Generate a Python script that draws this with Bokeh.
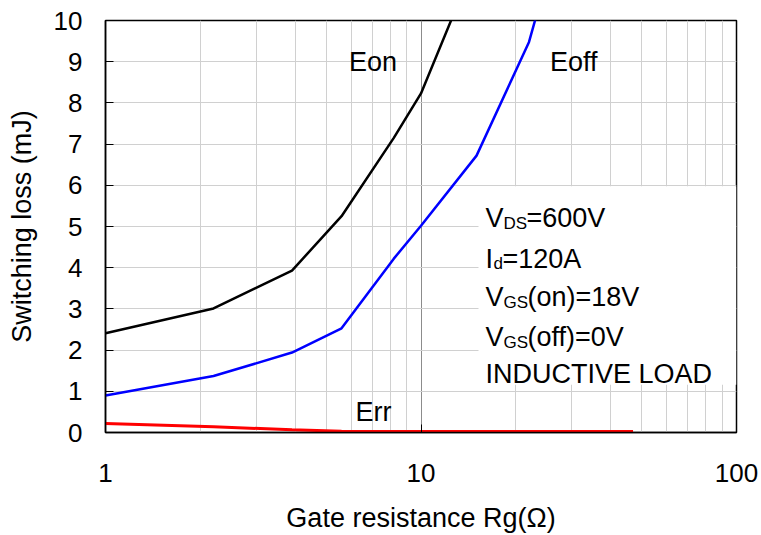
from bokeh.plotting import figure
from bokeh.models import (Range1d, FixedTicker, PrintfTickFormatter, Label,
                          BoxAnnotation)
from bokeh.embed import file_html
from bokeh.resources import INLINE

# ---- data ----
rg_on = [1, 2.2, 3.9, 5.6, 8.2, 10, 15]
eon = [2.41, 3.01, 3.93, 5.25, 7.15, 8.23, 11.5]

rg_off = [1, 2.2, 3.9, 5.6, 8.2, 10, 15, 22, 25]
eoff = [0.90, 1.37, 1.94, 2.53, 4.22, 5.02, 6.72, 9.48, 11.0]

rg_rr = [1, 2.2, 3.9, 5.6, 8.2, 10, 15, 22, 33, 47]
err = [0.22, 0.14, 0.065, 0.03, 0.025, 0.025, 0.025, 0.025, 0.025, 0.025]

x_ticks = [1, 10, 100]
x_minor_ticks = [2, 3, 4, 5, 6, 7, 8, 9, 20, 30, 40, 50, 60, 70, 80, 90]
y_ticks = [0, 1, 2, 3, 4, 5, 6, 7, 8, 9, 10]

FONT = "Liberation Sans"

W, H = 761, 535
p = figure(width=W, height=H, x_axis_type="log",
           x_range=Range1d(1, 100), y_range=Range1d(0, 10),
           output_backend="svg", toolbar_location=None)
p.min_border_left = 105
p.min_border_right = 25
p.min_border_top = 20
p.min_border_bottom = 100
p.background_fill_color = "white"
p.border_fill_color = "white"
p.outline_line_color = "black"
p.outline_line_width = 1.5

# axes
p.xaxis.ticker = FixedTicker(ticks=x_ticks, minor_ticks=x_minor_ticks)
p.xaxis.formatter = PrintfTickFormatter(format="%d")
p.yaxis.ticker = FixedTicker(ticks=y_ticks)
for ax in (p.xaxis, p.yaxis):
    ax.axis_line_color = "black"
    ax.axis_line_width = 1.5
    ax.major_tick_in = 8
    ax.major_tick_out = 0
    ax.major_tick_line_color = "black"
    ax.major_tick_line_width = 1
    ax.minor_tick_line_color = None
    ax.major_label_text_font = FONT
    ax.major_label_text_font_size = "26px"
    ax.major_label_text_color = "black"
    ax.axis_label_text_font = FONT
    ax.axis_label_text_font_size = "27px"
    ax.axis_label_text_font_style = "normal"
    ax.axis_label_text_color = "black"

p.xaxis.axis_label = "Gate resistance Rg(Ω)"
p.yaxis.axis_label = "Switching loss (mJ)"
p.xaxis.major_label_standoff = 27
p.xaxis.axis_label_standoff = 18
p.yaxis.major_label_standoff = 23
p.yaxis.axis_label_standoff = 14

# grids
p.xgrid.grid_line_color = "#8c8c8c"
p.xgrid.grid_line_width = 1
p.xgrid.minor_grid_line_color = "#d0d0d0"
p.xgrid.minor_grid_line_width = 1
p.ygrid.grid_line_color = "#d0d0d0"
p.ygrid.grid_line_width = 1

# curves
p.line(rg_on, eon, line_color="#000000", line_width=2.5)
p.line(rg_off, eoff, line_color="#0000ff", line_width=2.5)
p.line(rg_rr, err, line_color="#ff0000", line_width=3)


# helpers converting pixel positions of the reference to data coords
def xd(px):
    return 10 ** ((px - 105) / 315.5)


def yd(py):
    return (435 - py) / 41.5


# white box behind condition text
p.add_layout(BoxAnnotation(left=xd(478), right=100, bottom=yd(387), top=yd(187),
                           fill_color="white", fill_alpha=1.0, line_color=None))


def lab(text, px, py, size="27px"):
    p.add_layout(Label(x=xd(px), y=yd(py), text=text, text_font=FONT,
                       text_font_size=size, text_color="black",
                       text_align="left", text_baseline="alphabetic"))


lab("Eon", 348.5, 62)
lab("Eoff", 549.5, 62)
lab("Err", 355, 414)

lab("V", 485, 219)
lab("DS", 503, 224, "17px")
lab("=600V", 526, 219)

lab("I", 485, 260)
lab("d", 493, 265, "17px")
lab("=120A", 502, 260)

lab("V", 485, 299)
lab("GS", 503, 304, "17px")
lab("(on)=18V", 527, 299)

lab("V", 485, 339)
lab("GS", 503, 344, "17px")
lab("(off)=0V", 527, 339)

lab("INDUCTIVE LOAD", 485, 376)

open("out.html", "w").write(file_html(p, INLINE))
